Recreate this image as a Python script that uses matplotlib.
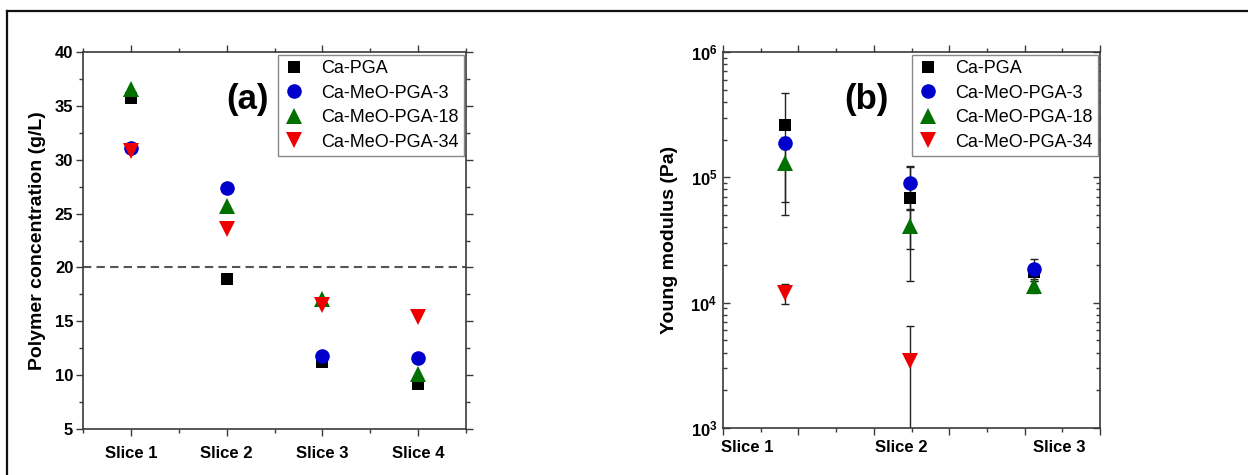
import numpy as np
import matplotlib
matplotlib.use("Agg")
import matplotlib.pyplot as plt
from matplotlib.lines import Line2D
from matplotlib.ticker import MultipleLocator, FixedLocator, LogLocator, NullFormatter
import matplotlib.transforms as mtransforms

plt.rcParams['font.family'] = ['Liberation Sans', 'DejaVu Sans']
plt.rcParams['mathtext.fontset'] = 'custom'
plt.rcParams['mathtext.bf'] = 'Liberation Sans:bold'
plt.rcParams['mathtext.rm'] = 'Liberation Sans'

# ---------------- data ----------------
series = ['Ca-PGA', 'Ca-MeO-PGA-3', 'Ca-MeO-PGA-18', 'Ca-MeO-PGA-34']

slices_a = ['Slice 1', 'Slice 2', 'Slice 3', 'Slice 4']
conc_pga = [35.7, 18.9, 11.2, 9.2]
conc_3 = [31.1, 27.4, 11.8, 11.6]
conc_18 = [36.6, 25.7, 17.1, 10.1]
conc_34 = [30.8, 23.6, 16.5, 15.4]
threshold = 20

slices_b = ['Slice 1', 'Slice 2', 'Slice 3']
mod_pga = [2.6e5, 6.8e4, 1.75e4]
err_pga = [2.1e5, 5.3e4, 2.0e3]
mod_3 = [1.88e5, 9.0e4, 1.85e4]
err_3 = [2.0e4, 3.4e4, 3.7e3]
mod_18 = [1.31e5, 4.1e4, 1.35e4]
err_18 = [6.8e4, 1.43e4, 1.5e3]
mod_34 = [1.19e4, 3.44e3, np.nan]
err_34 = [2.2e3, 3.1e3, np.nan]

# ---------------- styles ----------------
colors = ['black', '#0000cc', '#007000', '#ee0000']
markers = ['s', 'o', '^', 'v']
msizes = [8, 10.5, 11.5, 11.5]
spine_c = '#3a3a3a'

W, H = 1248, 475
fig = plt.figure(figsize=(W / 100, H / 100), dpi=100)

def px_axes(x0, x1, ytop, ybot):
    return fig.add_axes([x0 / W, 1 - ybot / H, (x1 - x0) / W, (ybot - ytop) / H])

def style_spines(ax):
    for s in ax.spines.values():
        s.set_color(spine_c)
        s.set_linewidth(1.2)

# ---------------- panel (a) ----------------
axa = px_axes(83, 466, 52, 429)
style_spines(axa)
xa = np.arange(1, len(slices_a) + 1)
for vals, lab, c, m, ms in zip([conc_pga, conc_3, conc_18, conc_34], series, colors, markers, msizes):
    axa.plot(xa, vals, linestyle='none', marker=m, color=c, markersize=ms,
             markeredgewidth=0, label=lab, zorder=3)
axa.axhline(threshold, color='#555555', lw=1.5, ls=(0, (4, 2.5)), zorder=1)
axa.set_xlim(0.5, len(slices_a) + 0.5)
axa.set_ylim(5, 40)
axa.set_xticks(xa)
axa.set_xticklabels(slices_a, fontweight='bold', fontsize=12)
axa.xaxis.set_minor_locator(MultipleLocator(0.5))
axa.yaxis.set_major_locator(MultipleLocator(5))
axa.yaxis.set_minor_locator(MultipleLocator(2.5))
for lab in axa.get_yticklabels():
    lab.set_fontweight('bold')
    lab.set_fontsize(12)
axa.tick_params(which='both', top=True, right=True, color=spine_c, width=1.0)
axa.tick_params(which='major', length=5)
axa.tick_params(which='minor', length=3)
axa.tick_params(axis='x', which='both', direction='out', pad=7)
axa.tick_params(axis='y', which='both', direction='out', pad=2)
axa.set_ylabel('Polymer concentration (g/L)', fontweight='bold', fontsize=14, labelpad=6)
axa.text(0.43, 0.875, '(a)', transform=axa.transAxes, fontsize=25, fontweight='bold',
         ha='center', va='center')
leg = axa.legend(loc='upper right', bbox_to_anchor=(0.995, 0.993), fontsize=13,
                 frameon=True, fancybox=False, edgecolor='#888888', framealpha=1,
                 handletextpad=0.9, labelspacing=0.42, borderpad=0.3,
                 handlelength=1.2, borderaxespad=0)
leg.get_frame().set_linewidth(1.0)

# ---------------- panel (b) ----------------
axb = px_axes(723, 1100, 52, 428)
style_spines(axb)
xb = np.arange(1, len(slices_b) + 1)
for vals, errs in zip([mod_pga, mod_3, mod_18, mod_34], [err_pga, err_3, err_18, err_34]):
    axb.errorbar(xb, vals, yerr=errs, fmt='none', ecolor='#222222', elinewidth=1.0,
                 capsize=3, capthick=1.0, zorder=2)
for vals, lab, c, m, ms in zip([mod_pga, mod_3, mod_18, mod_34], series, colors, markers, msizes):
    axb.plot(xb, vals, linestyle='none', marker=m, color=c, markersize=ms,
             markeredgewidth=0, label=lab, zorder=3)
axb.set_yscale('log')
axb.set_ylim(1e3, 1e6)
xlo, xhi = 0.5, 3.53
axb.set_xlim(xlo, xhi)
tick_pos = np.linspace(xlo, xhi, 11)
axb.xaxis.set_major_locator(FixedLocator(tick_pos[::2]))
axb.xaxis.set_minor_locator(FixedLocator(tick_pos[1::2]))
axb.xaxis.set_major_formatter(NullFormatter())
label_pos = [0.696, 1.934, 3.20]
trans = mtransforms.blended_transform_factory(axb.transData, axb.transAxes)
for p, s in zip(label_pos, slices_b):
    axb.text(p, -0.033, s, transform=trans, ha='center', va='top',
             fontweight='bold', fontsize=12)
axb.set_yticks([1e3, 1e4, 1e5, 1e6])
axb.set_yticklabels([r'$\mathbf{10^{3}}$', r'$\mathbf{10^{4}}$',
                     r'$\mathbf{10^{5}}$', r'$\mathbf{10^{6}}$'], fontsize=12)
axb.yaxis.set_minor_locator(LogLocator(base=10, subs=np.arange(2, 10)))
axb.yaxis.set_minor_formatter(NullFormatter())
axb.tick_params(which='both', top=True, right=True, color=spine_c, width=1.0)
axb.tick_params(which='major', length=5)
axb.tick_params(which='minor', length=3)
axb.tick_params(axis='x', which='both', direction='out')
axb.tick_params(axis='y', which='both', direction='in', pad=4)
axb.set_ylabel('Young modulus (Pa)', fontweight='bold', fontsize=14, labelpad=9)
axb.text(0.38, 0.875, '(b)', transform=axb.transAxes, fontsize=25, fontweight='bold',
         ha='center', va='center')
legb = axb.legend(loc='upper right', bbox_to_anchor=(0.995, 0.993), fontsize=13,
                  frameon=True, fancybox=False, edgecolor='#888888', framealpha=1,
                  handletextpad=0.9, labelspacing=0.42, borderpad=0.3,
                  handlelength=1.2, borderaxespad=0)
legb.get_frame().set_linewidth(1.0)

# ---------------- outer frame ----------------
fx = 7 / W
fy = 1 - 11 / H
fig.add_artist(Line2D([fx, fx], [0, fy], transform=fig.transFigure, color='#111111', lw=1.6))
fig.add_artist(Line2D([fx, 1], [fy, fy], transform=fig.transFigure, color='#111111', lw=1.6))

fig.savefig('out.png', dpi=100)
